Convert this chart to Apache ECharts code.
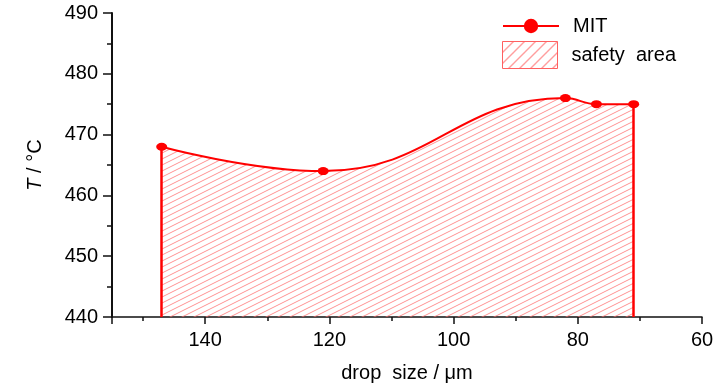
<!DOCTYPE html>
<html><head><meta charset="utf-8">
<script src="https://cdn.jsdelivr.net/npm/echarts@6/dist/echarts.min.js"></script>
<style>html,body{margin:0;padding:0;background:#fff}#c{width:728px;height:390px}</style>
</head><body><div id="c"></div>
<script>
// data
const dropSize = [147, 121, 82, 77, 71];
const mit = [468, 464, 476, 475, 475];
const xRange = [60, 155];
const yRange = [440, 490];
const seriesNames = ['MIT', 'safety  area'];

const FONT = 'Liberation Sans';
function hatch(w, h, color, lw) {
  const c = document.createElement('canvas');
  c.width = w; c.height = h;
  const g = c.getContext('2d');
  g.strokeStyle = color; g.lineWidth = lw;
  g.beginPath();
  g.moveTo(0, h); g.lineTo(w, 0);
  g.moveTo(-w, h); g.lineTo(0, 0);
  g.moveTo(w, h); g.lineTo(2 * w, 0);
  g.moveTo(0, 2 * h); g.lineTo(w, h);
  g.moveTo(0, 0); g.lineTo(w, -h);
  g.stroke();
  return c;
}
const areaPattern = { image: hatch(12, 6, 'rgba(255,110,110,0.75)', 1), repeat: 'repeat' };
const legendPattern = { image: hatch(11, 11, 'rgba(255,40,40,0.9)', 1), repeat: 'repeat' };

const pts = dropSize.map((x, i) => [x, mit[i]]);
const chart = echarts.init(document.getElementById('c'), null, { renderer: 'canvas' });
const axisLine = { lineStyle: { color: '#111', width: 1.5 } };
chart.setOption({
  animation: false,
  grid: { left: 112, right: 26, top: 13, bottom: 73 },
  legend: [
    { data: [seriesNames[0]], left: 502, top: 16, padding: 0, itemWidth: 56, itemHeight: 18,
      textStyle: { fontFamily: FONT, fontSize: 20, color: '#000', padding: [0, 0, 0, 9] } },
    { data: [{ name: seriesNames[1], icon: 'rect',
               itemStyle: { color: legendPattern, borderColor: '#ff6060', borderWidth: 1 } }],
      left: 502, top: 41, padding: 0, itemWidth: 55, itemHeight: 27,
      textStyle: { fontFamily: FONT, fontSize: 20, color: '#000', padding: [0, 0, 0, 9] } }
  ],
  xAxis: {
    type: 'value', inverse: true, min: xRange[0], max: xRange[1], interval: 20,
    name: 'drop  size / μm', nameLocation: 'middle', nameGap: 46,
    nameTextStyle: { fontFamily: FONT, fontSize: 20, color: '#000' },
    axisLine: axisLine,
    axisTick: { show: true, length: 7, inside: false, lineStyle: { color: '#111', width: 1.5 } },
    minorTick: { show: true, splitNumber: 2, length: 4, lineStyle: { color: '#111', width: 1.5 } },
    axisLabel: { fontFamily: FONT, fontSize: 20, color: '#000', margin: 13, showMaxLabel: false },
    splitLine: { show: false }
  },
  yAxis: {
    type: 'value', min: yRange[0], max: yRange[1], interval: 10,
    name: '{i|T} / °C', nameLocation: 'middle', nameGap: 67, nameRotate: 90,
    nameTextStyle: { fontFamily: FONT, fontSize: 20, color: '#000',
      rich: { i: { fontFamily: FONT, fontSize: 20, fontStyle: 'italic', color: '#000' } } },
    axisLine: { show: true, lineStyle: { color: '#111', width: 2 } },
    axisTick: { show: true, length: 9, inside: false, lineStyle: { color: '#111', width: 1.5 } },
    minorTick: { show: true, splitNumber: 2, length: 5, lineStyle: { color: '#111', width: 1.5 } },
    axisLabel: { fontFamily: FONT, fontSize: 20, color: '#000', margin: 14 },
    splitLine: { show: false }
  },
  series: [
    { name: seriesNames[1], type: 'line', data: pts, smooth: 0.45, symbol: 'none',
      lineStyle: { width: 0, color: '#ff0000' }, itemStyle: { color: '#ff0000' },
      areaStyle: { color: areaPattern, origin: 'start', opacity: 1 }, z: 1 },
    { name: seriesNames[0], type: 'line', data: pts, smooth: 0.45, symbol: 'circle', symbolSize: [11, 8],
      lineStyle: { width: 2, color: '#ff0000' }, itemStyle: { color: '#ff0000' }, z: 3,
      markLine: { symbol: 'none', silent: true, label: { show: false },
        lineStyle: { color: '#ff0000', width: 2.5, type: 'solid' },
        data: [
          [{ coord: [dropSize[0], yRange[0]] }, { coord: [dropSize[0], mit[0]] }],
          [{ coord: [dropSize[dropSize.length - 1], yRange[0]] }, { coord: [dropSize[dropSize.length - 1], mit[mit.length - 1]] }]
        ] } }
  ]
});
</script></body></html>
